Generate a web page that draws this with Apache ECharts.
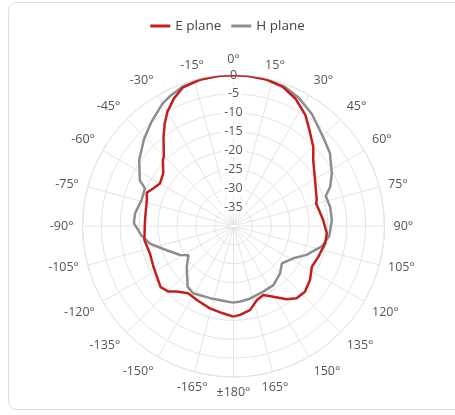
<!DOCTYPE html>
<html>
<head>
<meta charset="utf-8">
<script src="https://cdn.jsdelivr.net/npm/echarts@6/dist/echarts.min.js"></script>
<style>
html,body{margin:0;padding:0;background:#fff;}
#card{position:absolute;left:8px;top:2px;width:470px;height:408px;border:1px solid #dcdcdc;border-radius:9px;box-sizing:border-box;}
#chart{position:absolute;left:0;top:0;width:455px;height:415px;}
</style>
</head>
<body>
<div id="card"></div>
<div id="chart"></div>
<script>
// E plane: angle (deg) and gain (dB)
const eAngle = [-180,-173,-164,-154,-146,-139,-135,-130,-117,-108,-99,-86,-73,-69,-65,-60,-53,-47,-45,-38,-34,-30,-25,-20,-13,-6,0,6,12.7,19.5,26,33,38.4,45.4,50.4,60.6,72.6,74.6,86.2,94.5,100.7,110,117.5,125.2,132.6,138.8,144,150.6,156.6,162.6,168.9,175.8,180];
const eGain  = [-16.0,-16.7,-17.3,-18.1,-18.5,-17.0,-15.5,-14.8,-16.2,-16.7,-16.1,-16.5,-16.0,-15.4,-16.5,-17.5,-16.7,-14.4,-13.9,-9.9,-7.4,-5.0,-2.7,-0.9,-0.25,-0.05,0,-0.05,-0.25,-0.9,-2.5,-5.0,-7.6,-10.3,-12.6,-15.2,-16.9,-17.3,-16.2,-15.2,-15.3,-16.1,-16.6,-15.2,-14.3,-14.6,-16.0,-18.5,-20.1,-19.4,-17.3,-16.4,-16.0];
// H plane
const hAngle = [-180,-175,-162,-149,-143,-131,-123,-118.5,-110,-102,-96,-88.4,-82.7,-74,-67,-64,-55,-46,-38,-30,-26,-20,-13,-6,0,6,13,20,27,35,45,53,62,68,72,79,86.5,96,103,111.6,118.4,127.7,135.5,146,155.6,167,175,180];
const hGain  = [-19.7,-19.9,-19.9,-19.2,-19.8,-23.6,-25.8,-23.9,-21.2,-17.4,-15.5,-13.6,-13.7,-14.7,-14.5,-12.4,-9.5,-7.0,-4.8,-2.5,-1.7,-0.7,-0.2,-0.05,0,-0.05,-0.2,-0.7,-1.9,-3.8,-6.5,-8.0,-10.5,-12.4,-14.3,-13.9,-13.9,-14.5,-16.0,-19.2,-22.0,-23.8,-22.4,-21.1,-20.9,-20.3,-19.9,-19.7];
const seriesNames = ['E plane','H plane'];
const seriesColors = ['#c2201e','#8e8e8e'];

function toData(angles, gains){
  return angles.map((a,i)=>[gains[i], a < 0 ? a + 360 : a]);
}

const chart = echarts.init(document.getElementById('chart'), null, {renderer:'canvas'});
const font = 'Open Sans';
chart.setOption({
  animation:false,
  legend:{
    top:14, left:'center', itemWidth:20, itemHeight:3, itemGap:10, icon:'rect',
    textStyle:{fontFamily:font, fontSize:13.5, color:'#444'},
    data:seriesNames
  },
  polar:{center:[233.5,226], radius:151},
  angleAxis:{
    type:'value', min:0, max:360, interval:15, startAngle:90, clockwise:true,
    axisLine:{lineStyle:{color:'#dcdcdc'}},
    axisTick:{show:false},
    splitLine:{lineStyle:{color:'#e4e4e4'}},
    axisLabel:{
      fontFamily:font, fontSize:12.5, color:'#555', margin:9,
      formatter:function(v){
        if (v===360) return '';
        if (v===180) return '±180°';
        return (v>180 ? v-360 : v) + '°';
      }
    },
    z:0
  },
  radiusAxis:{
    type:'value', min:-40, max:0, interval:5,
    axisLine:{show:false},
    axisTick:{show:false},
    splitLine:{lineStyle:{color:'#e4e4e4'}},
    axisLabel:{
      fontFamily:font, fontSize:12.5, color:'#555', margin:0, align:'center', verticalAlign:'middle',
      backgroundColor:'#fff', padding:[1,3],
      formatter:function(v){ return v===-40 ? '' : String(v); }
    },
    z:1
  },
  series:[
    {name:seriesNames[0], type:'line', coordinateSystem:'polar', showSymbol:false, smooth:false, clip:false,
     lineStyle:{width:2.5, color:seriesColors[0]}, itemStyle:{color:seriesColors[0]}, z:3,
     data:toData(eAngle,eGain)},
    {name:seriesNames[1], type:'line', coordinateSystem:'polar', showSymbol:false, smooth:false, clip:false,
     lineStyle:{width:2.5, color:seriesColors[1]}, itemStyle:{color:seriesColors[1]}, z:2,
     data:toData(hAngle,hGain)}
  ]
});
</script>
</body>
</html>
